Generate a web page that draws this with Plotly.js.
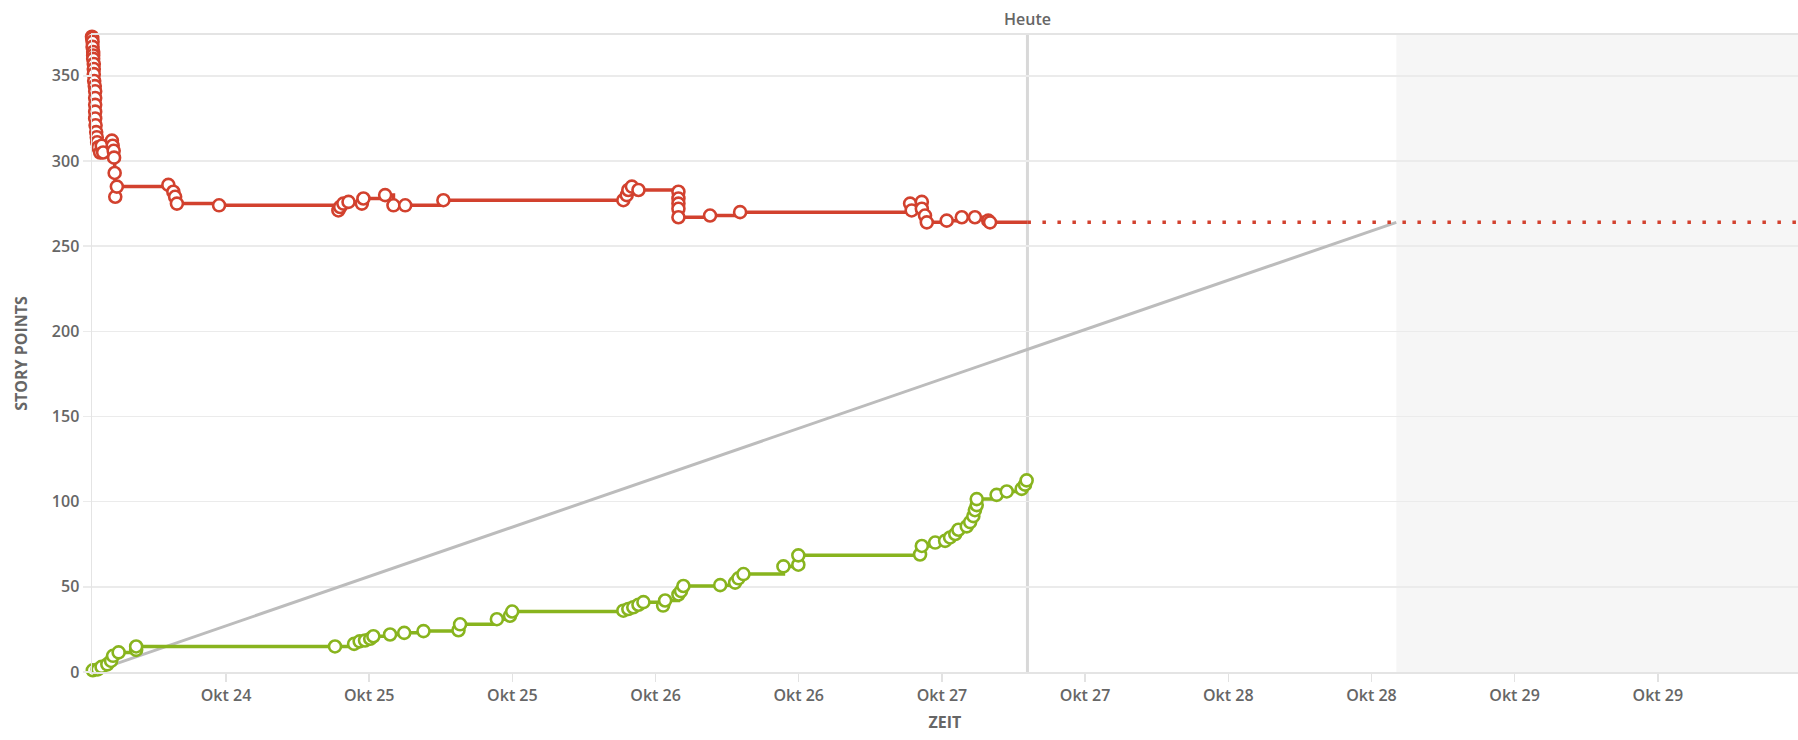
<!DOCTYPE html>
<html>
<head>
<meta charset="utf-8">
<script src="https://cdn.plot.ly/plotly-3.0.1.min.js"></script>
<style>
  html, body { margin: 0; padding: 0; background: #ffffff; }
  #chart { width: 1798px; height: 740px; }
</style>
</head>
<body>
<div id="chart"></div>
<script>
// ---- data ----
const sprintStart = '2017-10-24 00:46';
const viewEnd     = '2017-10-29 23:45';
const today       = '2017-10-27 07:10';
const offStart    = '2017-10-28 14:05';

const redTimes = [
  '2017-10-24 00:46','2017-10-24 00:47','2017-10-24 00:49','2017-10-24 00:49','2017-10-24 00:52',
  '2017-10-24 00:52','2017-10-24 00:52','2017-10-24 00:55','2017-10-24 00:55','2017-10-24 00:55',
  '2017-10-24 00:57','2017-10-24 01:00','2017-10-24 01:02','2017-10-24 01:02','2017-10-24 01:02',
  '2017-10-24 01:02','2017-10-24 01:02','2017-10-24 01:04','2017-10-24 01:07','2017-10-24 01:10',
  '2017-10-24 01:12','2017-10-24 01:17','2017-10-24 01:27','2017-10-24 01:35','2017-10-24 01:42',
  '2017-10-24 02:26','2017-10-24 02:30','2017-10-24 02:35','2017-10-24 02:37','2017-10-24 02:40',
  '2017-10-24 02:43','2017-10-24 02:51','2017-10-24 07:10','2017-10-24 07:35','2017-10-24 07:44',
  '2017-10-24 07:53','2017-10-24 11:25','2017-10-24 21:25','2017-10-24 21:34','2017-10-24 21:50',
  '2017-10-24 22:16','2017-10-24 23:23','2017-10-24 23:31','2017-10-25 01:20','2017-10-25 02:02',
  '2017-10-25 03:01','2017-10-25 06:13','2017-10-25 21:18','2017-10-25 21:35','2017-10-25 21:43',
  '2017-10-25 22:01','2017-10-25 22:34','2017-10-26 01:55','2017-10-26 01:55','2017-10-26 01:55',
  '2017-10-26 01:55','2017-10-26 01:55','2017-10-26 04:34','2017-10-26 07:05','2017-10-26 21:20',
  '2017-10-26 21:28','2017-10-26 22:19','2017-10-26 22:19','2017-10-26 22:35','2017-10-26 22:44',
  '2017-10-27 00:24','2017-10-27 01:40','2017-10-27 02:46','2017-10-27 03:53','2017-10-27 04:02'
];
const redValues = [
  373,372,370,367,364, 362,360,357,354,351,
  347,344,341,337,333, 329,325,321,317,314,
  311,308,305,309,305, 312,309,306,302,293,
  279,285,286,282,279, 275,274,271,273,275,
  276,275,278,280,274, 274,277,277,280,283,
  285,283,282,278,275, 272,267,268,270,275,
  271,276,272,268,264, 265,267,267,265,264
];

const greenTimes = [
  '2017-10-24 00:50','2017-10-24 01:15','2017-10-24 01:34','2017-10-24 02:03','2017-10-24 02:22',
  '2017-10-24 02:32','2017-10-24 03:00','2017-10-24 04:28','2017-10-24 04:28','2017-10-24 21:08',
  '2017-10-24 22:44','2017-10-24 23:12','2017-10-24 23:39','2017-10-25 00:05','2017-10-25 00:21',
  '2017-10-25 01:45','2017-10-25 02:56','2017-10-25 04:33','2017-10-25 07:29','2017-10-25 07:37',
  '2017-10-25 10:42','2017-10-25 11:48','2017-10-25 11:59','2017-10-25 21:18','2017-10-25 21:43',
  '2017-10-25 22:08','2017-10-25 22:34','2017-10-25 22:59','2017-10-26 00:38','2017-10-26 00:48',
  '2017-10-26 01:55','2017-10-26 02:08','2017-10-26 02:20','2017-10-26 05:25','2017-10-26 06:40',
  '2017-10-26 06:57','2017-10-26 07:22','2017-10-26 10:43','2017-10-26 11:58','2017-10-26 11:58',
  '2017-10-26 22:10','2017-10-26 22:19','2017-10-26 23:26','2017-10-27 00:16','2017-10-27 00:41',
  '2017-10-27 01:07','2017-10-27 01:23','2017-10-27 02:05','2017-10-27 02:22','2017-10-27 02:38',
  '2017-10-27 02:46','2017-10-27 02:55','2017-10-27 02:55','2017-10-27 04:35','2017-10-27 05:26',
  '2017-10-27 06:41','2017-10-27 06:58','2017-10-27 07:06'
];
const greenValues = [
  1,1.5,3,4.5,6.5, 9.5,11.5,13,15,15,
  16.5,18,18.5,19.5,21, 22,23,24,24.5,28,
  31,33,35.5,36,37, 38,39.5,41,39,42,
  45.5,47.5,50.5,51,52.5, 55,57.5,62,63,68.5,
  69,74,76,77,79, 81,83.5,85.5,88,91.5,
  95,98,101.5,104,106, 107.5,110,112.5
];

const idealTimes  = [sprintStart, offStart];
const idealValues = [0, 264];

const tickVals = [
  '2017-10-24 12:00','2017-10-25 00:00','2017-10-25 12:00','2017-10-26 00:00','2017-10-26 12:00',
  '2017-10-27 00:00','2017-10-27 12:00','2017-10-28 00:00','2017-10-28 12:00','2017-10-29 00:00',
  '2017-10-29 12:00'
];
const tickText = ['Okt 24','Okt 25','Okt 25','Okt 26','Okt 26','Okt 27','Okt 27','Okt 28','Okt 28','Okt 29','Okt 29'];

// ---- styles ----
const RED = '#d2412e';
const GREEN = '#88b41e';
const TXT = '#666666';
const FONT = 'Open Sans, Roboto, sans-serif';

const lastRed = redValues[redValues.length - 1];
const lastRedTime = redTimes[redTimes.length - 1];

const markerStyle = (c) => ({ symbol: 'circle', size: 12, color: '#ffffff', line: { color: c, width: 2.6 } });

const traces = [
  { x: idealTimes, y: idealValues, type: 'scatter', mode: 'lines',
    line: { color: '#bcbcbc', width: 3 }, hoverinfo: 'skip' },
  { x: [lastRedTime, today], y: [lastRed, lastRed], type: 'scatter', mode: 'lines',
    line: { color: RED, width: 3.5 }, hoverinfo: 'skip' },
  { x: [today, viewEnd], y: [lastRed, lastRed], type: 'scatter', mode: 'lines',
    line: { color: RED, width: 3.5, dash: '3.5px,11.5px' }, hoverinfo: 'skip' },
  { x: redTimes, y: redValues, type: 'scatter', mode: 'lines+markers', cliponaxis: false,
    line: { color: RED, width: 3.5, shape: 'hv' }, marker: markerStyle(RED) },
  { x: greenTimes, y: greenValues, type: 'scatter', mode: 'lines+markers', cliponaxis: false,
    line: { color: GREEN, width: 3.5, shape: 'hv' }, marker: markerStyle(GREEN) }
];

const layout = {
  width: 1798, height: 740,
  margin: { l: 92, r: 0, t: 35, b: 68 },
  paper_bgcolor: '#ffffff', plot_bgcolor: '#ffffff',
  showlegend: false,
  hovermode: false,
  font: { family: FONT, color: TXT },
  xaxis: {
    type: 'date',
    range: [sprintStart, viewEnd],
    tickmode: 'array', tickvals: tickVals, ticktext: tickText,
    ticks: 'outside', ticklen: 8, tickwidth: 1.5, tickcolor: '#e2e2e2',
    showgrid: false, zeroline: false,
    showline: true, linecolor: '#e4e4e4', linewidth: 2, mirror: true,
    tickfont: { family: FONT, size: 16, color: TXT, weight: 600 },
    title: { text: 'ZEIT', font: { family: FONT, size: 16, color: TXT, weight: 700 }, standoff: 12 }
  },
  yaxis: {
    range: [0, 374],
    tick0: 0, dtick: 50,
    ticks: 'outside', ticklen: 8, tickwidth: 1.5, tickcolor: '#ebebeb',
    showgrid: true, gridcolor: '#ebebeb', gridwidth: 1.5,
    zeroline: false,
    showline: true, linecolor: '#e4e4e4', linewidth: 1.5,
    tickfont: { family: FONT, size: 16, color: TXT, weight: 600 },
    title: { text: 'STORY POINTS', font: { family: FONT, size: 16, color: TXT, weight: 700 }, standoff: 20 }
  },
  shapes: [
    { type: 'rect', xref: 'x', yref: 'paper', x0: offStart, x1: viewEnd, y0: 0, y1: 1,
      fillcolor: '#f6f6f6', line: { width: 0 }, layer: 'below' },
    { type: 'line', xref: 'x', yref: 'paper', x0: today, x1: today, y0: 0, y1: 1,
      line: { color: '#d8d8d8', width: 3 }, layer: 'below' }
  ],
  annotations: [
    { x: today, xref: 'x', y: 1, yref: 'paper', yanchor: 'bottom', yshift: 3,
      text: 'Heute', showarrow: false,
      font: { family: FONT, size: 16, color: TXT, weight: 600 } }
  ]
};

Plotly.newPlot('chart', traces, layout, { displayModeBar: false, staticPlot: true });
</script>
</body>
</html>
